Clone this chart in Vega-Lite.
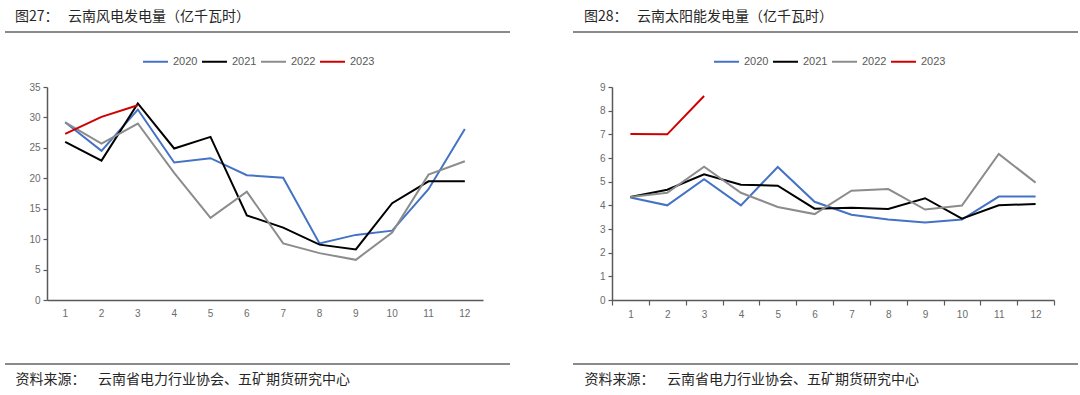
{
  "$schema": "https://vega.github.io/schema/vega-lite/v6.json",
  "padding": {"left": 4, "top": 9, "right": 0, "bottom": 0},
  "background": "white",
  "bounds": "flush",
  "spacing": 63,
  "resolve": {"scale": {"color": "independent"}, "legend": {"color": "independent"}},
  "datasets": {
    "wind": [
      {"month": 1, "year": "2020", "value": 29.2}, {"month": 2, "year": "2020", "value": 24.5}, {"month": 3, "year": "2020", "value": 31.3},
      {"month": 4, "year": "2020", "value": 22.6}, {"month": 5, "year": "2020", "value": 23.3}, {"month": 6, "year": "2020", "value": 20.5},
      {"month": 7, "year": "2020", "value": 20.1}, {"month": 8, "year": "2020", "value": 9.3}, {"month": 9, "year": "2020", "value": 10.7},
      {"month": 10, "year": "2020", "value": 11.4}, {"month": 11, "year": "2020", "value": 18.2}, {"month": 12, "year": "2020", "value": 28.1},
      {"month": 1, "year": "2021", "value": 26.0}, {"month": 2, "year": "2021", "value": 22.9}, {"month": 3, "year": "2021", "value": 32.3},
      {"month": 4, "year": "2021", "value": 24.9}, {"month": 5, "year": "2021", "value": 26.8}, {"month": 6, "year": "2021", "value": 13.9},
      {"month": 7, "year": "2021", "value": 11.9}, {"month": 8, "year": "2021", "value": 9.1}, {"month": 9, "year": "2021", "value": 8.3},
      {"month": 10, "year": "2021", "value": 15.9}, {"month": 11, "year": "2021", "value": 19.5}, {"month": 12, "year": "2021", "value": 19.5},
      {"month": 1, "year": "2022", "value": 29.2}, {"month": 2, "year": "2022", "value": 25.7}, {"month": 3, "year": "2022", "value": 29.0},
      {"month": 4, "year": "2022", "value": 20.9}, {"month": 5, "year": "2022", "value": 13.5}, {"month": 6, "year": "2022", "value": 17.8},
      {"month": 7, "year": "2022", "value": 9.3}, {"month": 8, "year": "2022", "value": 7.7}, {"month": 9, "year": "2022", "value": 6.6},
      {"month": 10, "year": "2022", "value": 11.1}, {"month": 11, "year": "2022", "value": 20.6}, {"month": 12, "year": "2022", "value": 22.8},
      {"month": 1, "year": "2023", "value": 27.3}, {"month": 2, "year": "2023", "value": 30.1}, {"month": 3, "year": "2023", "value": 32.0}
    ],
    "solar": [
      {"month": 1, "year": "2020", "value": 4.33}, {"month": 2, "year": "2020", "value": 4.0}, {"month": 3, "year": "2020", "value": 5.1},
      {"month": 4, "year": "2020", "value": 4.0}, {"month": 5, "year": "2020", "value": 5.62}, {"month": 6, "year": "2020", "value": 4.15},
      {"month": 7, "year": "2020", "value": 3.6}, {"month": 8, "year": "2020", "value": 3.4}, {"month": 9, "year": "2020", "value": 3.28},
      {"month": 10, "year": "2020", "value": 3.4}, {"month": 11, "year": "2020", "value": 4.37}, {"month": 12, "year": "2020", "value": 4.37},
      {"month": 1, "year": "2021", "value": 4.35}, {"month": 2, "year": "2021", "value": 4.66}, {"month": 3, "year": "2021", "value": 5.31},
      {"month": 4, "year": "2021", "value": 4.87}, {"month": 5, "year": "2021", "value": 4.83}, {"month": 6, "year": "2021", "value": 3.86},
      {"month": 7, "year": "2021", "value": 3.9}, {"month": 8, "year": "2021", "value": 3.85}, {"month": 9, "year": "2021", "value": 4.3},
      {"month": 10, "year": "2021", "value": 3.44}, {"month": 11, "year": "2021", "value": 4.0}, {"month": 12, "year": "2021", "value": 4.06},
      {"month": 1, "year": "2022", "value": 4.35}, {"month": 2, "year": "2022", "value": 4.53}, {"month": 3, "year": "2022", "value": 5.63},
      {"month": 4, "year": "2022", "value": 4.53}, {"month": 5, "year": "2022", "value": 3.93}, {"month": 6, "year": "2022", "value": 3.63},
      {"month": 7, "year": "2022", "value": 4.62}, {"month": 8, "year": "2022", "value": 4.69}, {"month": 9, "year": "2022", "value": 3.82},
      {"month": 10, "year": "2022", "value": 3.99}, {"month": 11, "year": "2022", "value": 6.17}, {"month": 12, "year": "2022", "value": 4.96},
      {"month": 1, "year": "2023", "value": 7.01}, {"month": 2, "year": "2023", "value": 7.0}, {"month": 3, "year": "2023", "value": 8.62}
    ]
  },
  "hconcat": [
    {
      "width": 505,
      "height": 332,
      "title": {"text": "图27：\u00a0\u00a0\u00a0云南风电发电量（亿千瓦时）", "dx": 10},
      "data": {"name": "wind"},
      "mark": {"type": "line", "strokeWidth": 2},
      "encoding": {
        "x": {
          "field": "month", "type": "ordinal",
          "scale": {"type": "band", "range": [42, 478], "paddingInner": 0, "paddingOuter": 0},
          "axis": {
            "title": "资料来源：\u00a0\u00a0\u00a0\u00a0云南省电力行业协会、五矿期货研究中心",
            "titleX": 10, "titleY": 79,
            "offset": -64, "ticks": false, "labelPadding": 8
          }
        },
        "y": {
          "field": "value", "type": "quantitative",
          "scale": {"domain": [0, 35], "range": [268, 55], "nice": false},
          "axis": {"title": null, "offset": -42, "values": [0, 5, 10, 15, 20, 25, 30, 35]}
        },
        "color": {
          "field": "year", "type": "nominal",
          "scale": {"domain": ["2020", "2021", "2022", "2023"], "range": ["#4472C4", "#000000", "#8C8C8C", "#D00000"]},
          "legend": {"legendX": 137, "legendY": 16, "columnPadding": 0}
        }
      }
    },
    {
      "width": 505,
      "height": 332,
      "title": {"text": "图28：\u00a0\u00a0\u00a0云南太阳能发电量（亿千瓦时）", "dx": 11},
      "data": {"name": "solar"},
      "mark": {"type": "line", "strokeWidth": 2},
      "encoding": {
        "x": {
          "field": "month", "type": "ordinal",
          "scale": {"type": "band", "range": [39, 481], "paddingInner": 0, "paddingOuter": 0},
          "axis": {
            "title": "资料来源：\u00a0\u00a0\u00a0\u00a0云南省电力行业协会、五矿期货研究中心",
            "titleX": 11, "titleY": 79,
            "offset": -64, "ticks": true, "tickBand": "extent", "tickSize": 5, "labelPadding": 4
          }
        },
        "y": {
          "field": "value", "type": "quantitative",
          "scale": {"domain": [0, 9], "range": [268, 55], "nice": false},
          "axis": {"title": null, "offset": -39, "values": [0, 1, 2, 3, 4, 5, 6, 7, 8, 9]}
        },
        "color": {
          "field": "year", "type": "nominal",
          "scale": {"domain": ["2020", "2021", "2022", "2023"], "range": ["#4472C4", "#000000", "#8C8C8C", "#D00000"]},
          "legend": {"legendX": 140, "legendY": 16, "columnPadding": 0}
        }
      }
    }
  ],
  "config": {
    "view": {"stroke": "#8A8A8A", "strokeWidth": 2, "strokeDash": [505, 332]},
    "title": {"anchor": "start", "frame": "group", "font": "Noto Sans CJK SC", "fontSize": 14, "fontWeight": "normal", "color": "#262626", "offset": 8, "baseline": "bottom"},
    "axis": {
      "labelFont": "Liberation Sans", "labelFontSize": 10, "labelColor": "#6B6B6B", "labelAngle": 0,
      "domainColor": "#595959", "domainWidth": 1.5, "tickColor": "#595959", "tickWidth": 1.2, "tickSize": 4,
      "grid": false, "labelPadding": 3,
      "titleFont": "Noto Sans CJK SC", "titleFontSize": 14, "titleFontWeight": "normal", "titleColor": "#262626",
      "titleAlign": "left", "titleBaseline": "middle", "titleAnchor": "start"
    },
    "legend": {
      "title": null, "orient": "none", "direction": "horizontal",
      "symbolType": "stroke", "symbolSize": 625, "symbolStrokeWidth": 2,
      "labelFont": "Liberation Sans", "labelFontSize": 11, "labelColor": "#595959",
      "columnPadding": 0, "labelOffset": 4
    }
  }
}
